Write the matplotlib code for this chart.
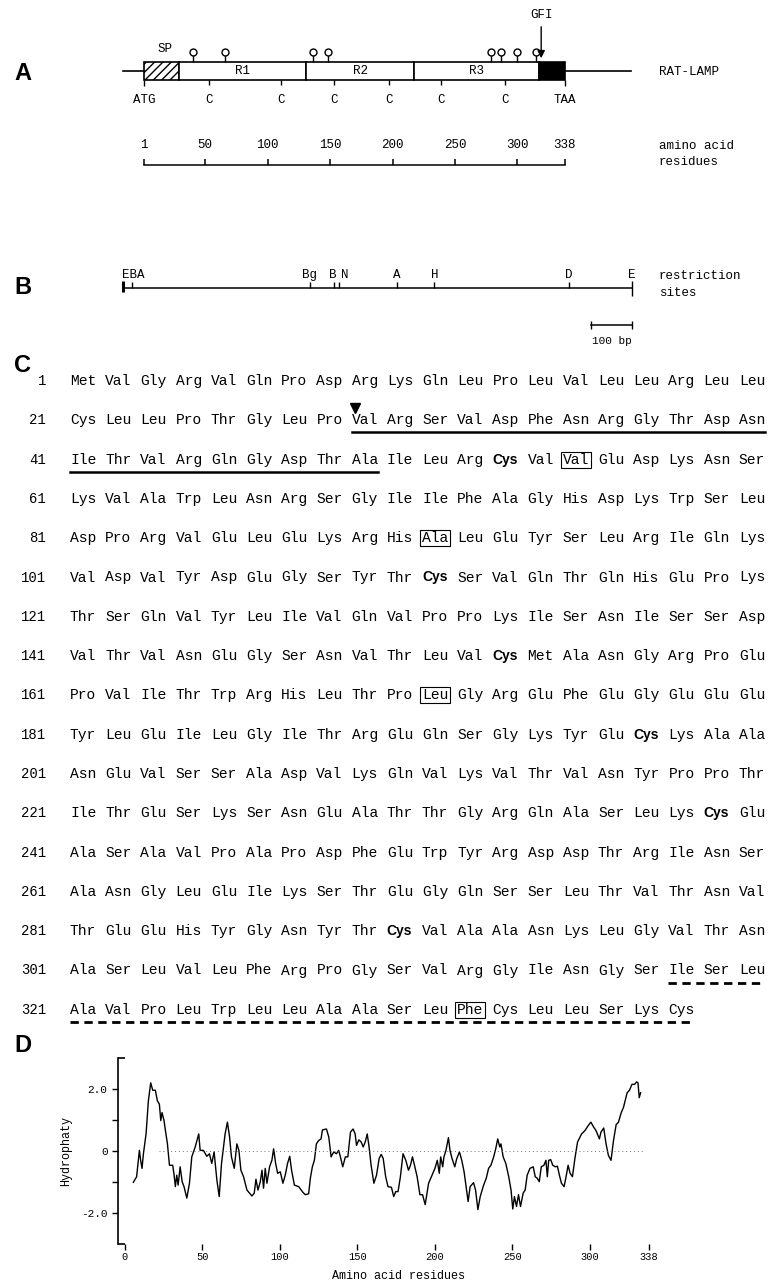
import matplotlib
matplotlib.use("Agg")
import matplotlib.pyplot as plt
from matplotlib.patches import Rectangle

plt.rcParams['font.family'] = ['Liberation Mono', 'DejaVu Sans Mono']
plt.rcParams['hatch.linewidth'] = 1.0

W, H = 768, 1286

# ---- panel A: domain map of RAT-LAMP (residue numbers)
domain_names = ["SP", "R1", "R2", "R3", "GPI"]
domain_start = [1, 29, 131, 217, 317]
domain_end = [29, 131, 217, 317, 338]
cys_pos = [53, 111, 153, 197, 239, 290]
glyco_pos = [40, 66, 136, 148, 279, 287, 300, 315]
gfi_pos = 319
ruler_ticks = [1, 50, 100, 150, 200, 250, 300, 338]

# ---- panel B: restriction sites (bp)
site_pos = [0, 24, 460, 520, 531, 674, 766, 1097, 1252]
site_names = ["EBA", "Bg", "B", "N", "A", "H", "D", "E"]
site_label_pos = [0, 460, 516, 545, 674, 766, 1097, 1252]
bar_bp = 100

# ---- panel C: amino acid sequence
seq = """
Met Val Gly Arg Val Gln Pro Asp Arg Lys Gln Leu Pro Leu Val Leu Leu Arg Leu Leu
Cys Leu Leu Pro Thr Gly Leu Pro Val Arg Ser Val Asp Phe Asn Arg Gly Thr Asp Asn
Ile Thr Val Arg Gln Gly Asp Thr Ala Ile Leu Arg Cys Val Val Glu Asp Lys Asn Ser
Lys Val Ala Trp Leu Asn Arg Ser Gly Ile Ile Phe Ala Gly His Asp Lys Trp Ser Leu
Asp Pro Arg Val Glu Leu Glu Lys Arg His Ala Leu Glu Tyr Ser Leu Arg Ile Gln Lys
Val Asp Val Tyr Asp Glu Gly Ser Tyr Thr Cys Ser Val Gln Thr Gln His Glu Pro Lys
Thr Ser Gln Val Tyr Leu Ile Val Gln Val Pro Pro Lys Ile Ser Asn Ile Ser Ser Asp
Val Thr Val Asn Glu Gly Ser Asn Val Thr Leu Val Cys Met Ala Asn Gly Arg Pro Glu
Pro Val Ile Thr Trp Arg His Leu Thr Pro Leu Gly Arg Glu Phe Glu Gly Glu Glu Glu
Tyr Leu Glu Ile Leu Gly Ile Thr Arg Glu Gln Ser Gly Lys Tyr Glu Cys Lys Ala Ala
Asn Glu Val Ser Ser Ala Asp Val Lys Gln Val Lys Val Thr Val Asn Tyr Pro Pro Thr
Ile Thr Glu Ser Lys Ser Asn Glu Ala Thr Thr Gly Arg Gln Ala Ser Leu Lys Cys Glu
Ala Ser Ala Val Pro Ala Pro Asp Phe Glu Trp Tyr Arg Asp Asp Thr Arg Ile Asn Ser
Ala Asn Gly Leu Glu Ile Lys Ser Thr Glu Gly Gln Ser Ser Leu Thr Val Thr Asn Val
Thr Glu Glu His Tyr Gly Asn Tyr Thr Cys Val Ala Ala Asn Lys Leu Gly Val Thr Asn
Ala Ser Leu Val Leu Phe Arg Pro Gly Ser Val Arg Gly Ile Asn Gly Ser Ile Ser Leu
Ala Val Pro Leu Trp Leu Leu Ala Ala Ser Leu Phe Cys Leu Leu Ser Lys Cys
""".split()
boxed_pos = [55, 91, 171, 332]
cleavage_pos = 29
solid_ul = (29, 49)
dashed_ul = (318, 338)

# ---- panel D: hydropathy profile
hyd_res = [5.4, 7.5, 9.3, 10.1, 11.0, 11.9, 13.6, 15.1, 16.6, 17.9, 19.6, 20.9,
           22.2, 23.1, 23.9, 25.2, 26.1, 27.4, 28.7, 30.8, 31.7, 32.5, 33.4, 34.3,
           35.6, 36.9, 38.1, 39.9, 41.6, 43.1, 45.3, 47.6, 48.5, 50.6, 52.8, 54.5,
           56.0, 57.5, 59.3, 60.8, 62.3, 64.6, 66.1, 67.5, 68.7, 70.5, 72.2, 73.5,
           74.8, 76.5, 78.7, 81.9, 83.4, 84.5, 85.8, 87.3, 88.4, 89.4, 90.5, 91.6,
           93.3, 94.8, 95.9, 97.2, 98.5, 100.2, 101.9, 103.4, 104.9, 106.3, 107.5,
           109.3, 112.1, 114.9, 116.4, 118.5, 119.6, 120.9, 122.2, 123.5, 125.0,
           126.5, 127.4, 130.0, 131.5, 133.0, 134.7, 136.4, 137.9, 139.0, 140.5,
           142.2, 143.8, 145.5, 147.2, 148.5, 149.4, 150.9, 152.4, 153.7, 155.0,
           156.3, 157.5, 158.8, 160.6, 162.3, 164.0, 165.3, 166.6, 168.2, 169.7,
           171.9, 173.4, 174.7, 176.2, 177.7, 179.4, 181.2, 182.9, 184.2, 185.5,
           186.8, 188.5, 190.3, 192.0, 193.7, 195.9, 198.1, 200.0, 201.5, 202.8,
           203.7, 205.0, 205.8, 207.1, 208.7, 209.7, 211.0, 212.8, 214.1, 215.8,
           217.3, 218.8, 220.1, 221.4, 222.7, 224.9, 226.2, 227.7, 229.2, 231.4,
           233.1, 234.6, 236.1, 237.9, 239.2, 240.5, 241.8, 242.6, 244.0, 245.7,
           247.6, 249.1, 250.2, 251.3, 252.6, 253.9, 255.2, 256.9, 258.2, 259.5,
           261.3, 263.4, 264.7, 266.0, 267.3, 268.6, 270.3, 271.6, 272.5, 273.4,
           274.7, 276.0, 277.7, 279.0, 280.3, 281.6, 283.3, 284.6, 285.9, 287.2,
           288.7, 290.3, 292.0, 294.6, 296.8, 298.9, 300.6, 302.4, 303.9, 306.1,
           307.1, 308.9, 310.4, 311.9, 313.6, 315.2, 316.9, 318.4, 320.2, 321.6,
           322.7, 324.0, 325.5, 327.1, 328.8, 330.1, 331.0, 331.8, 332.7]
hyd_val = [-1.01, -0.83, 0.02, -0.30, -0.56, -0.09, 0.55, 1.62, 2.20, 1.96, 1.96, 1.62,
           1.51, 0.98, 1.24, 0.98, 0.66, 0.23, -0.46, -0.46, -0.78, -1.15, -0.78, -1.10,
           -0.51, -0.99, -1.15, -1.52, -1.04, -0.19, 0.13, 0.55, 0.02, 0.02, -0.17, -0.09,
           -0.40, -0.03, -0.94, -1.47, -0.40, 0.55, 0.93, 0.45, -0.19, -0.56, 0.23, 0.02,
           -0.62, -0.83, -1.26, -1.45, -1.36, -0.91, -1.26, -0.99, -0.62, -1.20, -0.56, -1.04,
           -0.51, -0.30, 0.07, -0.40, -0.72, -0.67, -1.04, -0.78, -0.40, -0.17, -0.62,
           -1.10, -1.15, -1.34, -1.41, -1.38, -0.88, -0.51, -0.30, 0.23, 0.34,
           0.39, 0.68, 0.71, 0.45, -0.19, -0.03, -0.09, 0.02, -0.19, -0.51,
           -0.19, -0.19, 0.61, 0.71, 0.55, 0.18, 0.36, 0.29, 0.13, 0.29,
           0.55, 0.13, -0.46, -1.04, -0.78, -0.24, -0.11, -0.24, -0.83, -1.15,
           -1.17, -1.47, -1.31, -1.31, -0.83, -0.09, -0.30, -0.62, -0.46, -0.19,
           -0.46, -0.83, -1.41, -1.41, -1.73, -1.04, -0.78, -0.56, -0.30, -0.72,
           -0.19, -0.51, -0.19, 0.02, 0.43, 0.02, -0.24, -0.51, -0.24, -0.03,
           -0.30, -0.67, -1.15, -1.63, -1.15, -1.02, -1.26, -1.89, -1.47, -1.10,
           -0.88, -0.56, -0.46, -0.19, 0.07, 0.39, 0.13, 0.23, -0.19, -0.40,
           -0.83, -1.26, -1.87, -1.47, -1.79, -1.41, -1.79, -1.36, -1.26, -0.78,
           -0.56, -0.51, -0.83, -0.88, -0.99, -0.51, -0.46, -0.30, -0.83, -0.30,
           -0.28, -0.46, -0.51, -0.49, -0.78, -1.04, -1.15, -0.83, -0.46, -0.72,
           -0.83, -0.24, 0.29, 0.55, 0.66, 0.82, 0.93, 0.77, 0.66, 0.39,
           0.61, 0.74, 0.23, -0.14, -0.30, 0.34, 0.85, 0.93, 1.24, 1.40,
           1.62, 1.88, 1.96, 2.15, 2.15, 2.23, 2.20, 1.72, 1.88]
hyd_xticks = [0, 50, 100, 150, 200, 250, 300, 338]

fig = plt.figure(figsize=(W / 100, H / 100), dpi=100)
bg = fig.add_axes([0, 0, 1, 1])
bg.set_xlim(0, W)
bg.set_ylim(H, 0)
bg.axis('off')


def px_axes(x0, x1, y0, y1):
    return fig.add_axes([x0 / W, 1 - y1 / H, (x1 - x0) / W, (y1 - y0) / H])


letter = dict(family='Liberation Sans', fontweight='bold', fontsize=17, va='center')
small = dict(fontsize=9, va='center')

# ================= A =================
bg.text(14, 74, "A", **letter)
bg.text(659, 72, "RAT-LAMP", **small)
bg.text(659, 146, "amino acid", **small)
bg.text(659, 162, "residues", **small)

a0, ascale = 144, 1.249
axA = px_axes(100, 660, 0, 180)
axA.set_xlim(1 + (100 - a0) / ascale, 1 + (660 - a0) / ascale)
axA.set_ylim(180, 0)
axA.axis('off')

axA.plot([-16, 1], [71, 71], color='k', lw=1.2)
axA.plot([338, 391], [71, 71], color='k', lw=1.2)
for name, s, e in zip(domain_names, domain_start, domain_end):
    if name == "SP":
        r = Rectangle((s, 62), e - s, 18, facecolor='white', edgecolor='k', hatch='////', lw=1.2)
        axA.text((s + e) / 2 + 3, 49, name, ha='center', **small)
    elif name == "GPI":
        r = Rectangle((s, 62), e - s, 18, facecolor='k', edgecolor='k', lw=1.2)
    else:
        r = Rectangle((s, 62), e - s, 18, facecolor='white', edgecolor='k', lw=1.2)
        axA.text((s + e) / 2, 71, name, ha='center', **small)
    axA.add_patch(r)

axA.vlines(glyco_pos, 54, 62, color='k', lw=1)
axA.plot(glyco_pos, [52] * len(glyco_pos), 'o', ms=5, mfc='white', mec='k', mew=1)

axA.annotate("", xy=(gfi_pos, 61), xytext=(gfi_pos, 24),
             arrowprops=dict(arrowstyle='-|>', color='k', lw=1, mutation_scale=11))
axA.text(gfi_pos, 15, "GFI", ha='center', **small)

axA.vlines(cys_pos, 80, 85, color='k', lw=1)
axA.vlines([1, 338], 80, 86, color='k', lw=1)
for c in cys_pos:
    axA.text(c, 100, "C", ha='center', **small)
axA.text(1, 100, "ATG", ha='center', **small)
axA.text(338, 100, "TAA", ha='center', **small)

axA.plot([1, 338], [165, 165], color='k', lw=1.1)
axA.vlines(ruler_ticks, 159, 165, color='k', lw=1.1)
for t in ruler_ticks:
    axA.text(t, 145, str(t), ha='center', **small)

# ================= B =================
bg.text(14, 288, "B", **letter)
bg.text(659, 276, "restriction", **small)
bg.text(659, 293, "sites", **small)

b0, bscale = 122.5, 0.407
axB = px_axes(100, 660, 240, 350)
axB.set_xlim((100 - b0) / bscale, (660 - b0) / bscale)
axB.set_ylim(350, 240)
axB.axis('off')

axB.plot([site_pos[0], site_pos[-1]], [288, 288], color='k', lw=1.1)
axB.vlines(site_pos[1:-1], 282, 288, color='k', lw=1)
axB.vlines(site_pos[0], 281, 292, color='k', lw=2.2)
axB.vlines(site_pos[-1], 281, 296, color='k', lw=1)
for name, p in zip(site_names, site_label_pos):
    if name == "EBA":
        axB.text(p - 2, 275, name, ha='left', **small)
    else:
        axB.text(p, 275, name, ha='center', **small)

bar_end = site_pos[-1]
axB.plot([bar_end - bar_bp, bar_end], [325, 325], color='k', lw=1.1)
axB.vlines([bar_end - bar_bp, bar_end], 321, 329, color='k', lw=1)
axB.text(bar_end - bar_bp / 2, 341, "%d bp" % bar_bp, ha='center', fontsize=8, va='center')

# ================= C =================
bg.text(14, 366, "C", **letter)
row_y0, row_dy = 381, 39.3
x0, step, cw = 70, 35.2, 8.75


def res_xy(n):
    i = n - 1
    return x0 + (i % 20) * step, row_y0 + (i // 20) * row_dy


for k in range(0, len(seq), 20):
    bg.text(46, row_y0 + (k // 20) * row_dy, str(k + 1), ha='right', fontsize=10, va='center')
for i, aa in enumerate(seq):
    n = i + 1
    x, y = res_xy(n)
    if n in cys_pos:
        bg.text(x, y, aa, family='Liberation Sans', fontweight='bold', fontsize=10, va='center')
    else:
        bg.text(x, y, aa, fontsize=10.5, va='center')
    if n in boxed_pos:
        bg.add_patch(Rectangle((x - 2, y - 8), 3 * cw + 4, 16, fill=False, lw=0.8, ec='k'))


def underline(first, last, **kw):
    n = first
    while n <= last:
        row_end = min(last, ((n - 1) // 20 + 1) * 20)
        xa, y = res_xy(n)
        xb, _ = res_xy(row_end)
        bg.plot([xa, xb + 3 * cw], [y + 12, y + 12], color='k', **kw)
        n = row_end + 1


underline(*solid_ul, lw=1.8)
underline(*dashed_ul, lw=2, ls=(0, (3, 2)))
cx, cy = res_xy(cleavage_pos)
bg.plot(cx + 3, cy - 12, 'v', color='k', ms=7)

# ================= D =================
bg.text(14, 1045, "D", **letter)
axD = px_axes(118, 660, 1058, 1244)
axD.plot(hyd_res, hyd_val, color='k', lw=1)
axD.plot([22, 334], [0, 0], color='0.45', lw=0.7, ls=(0, (1, 3)))
axD.set_xlim(-4.5, 345.2)
axD.set_ylim(-3, 3)
for s in ['top', 'right', 'bottom']:
    axD.spines[s].set_visible(False)
axD.spines['left'].set_linewidth(1.2)
axD.set_xticks(hyd_xticks)
axD.set_xticklabels([str(t) for t in hyd_xticks], fontsize=7.5)
axD.set_yticks([-2, -1, 0, 1, 2])
axD.set_yticklabels(["-2.0", "", "0", "", "2.0"], fontsize=8)
axD.set_yticks([-3, 3], minor=True)
axD.tick_params(axis='y', which='major', direction='out', length=4, width=1)
axD.tick_params(axis='y', which='minor', direction='in', length=5, width=1.2)
axD.tick_params(axis='x', direction='out', length=4, width=1, pad=2)
axD.set_ylabel("Hydrophaty", fontsize=8.5)
axD.yaxis.set_label_coords(-0.085, 0.5)
axD.set_xlabel("Amino acid residues", fontsize=8.5)
axD.xaxis.set_label_coords(0.517, -0.14)

fig.savefig("out.png", dpi=100)
